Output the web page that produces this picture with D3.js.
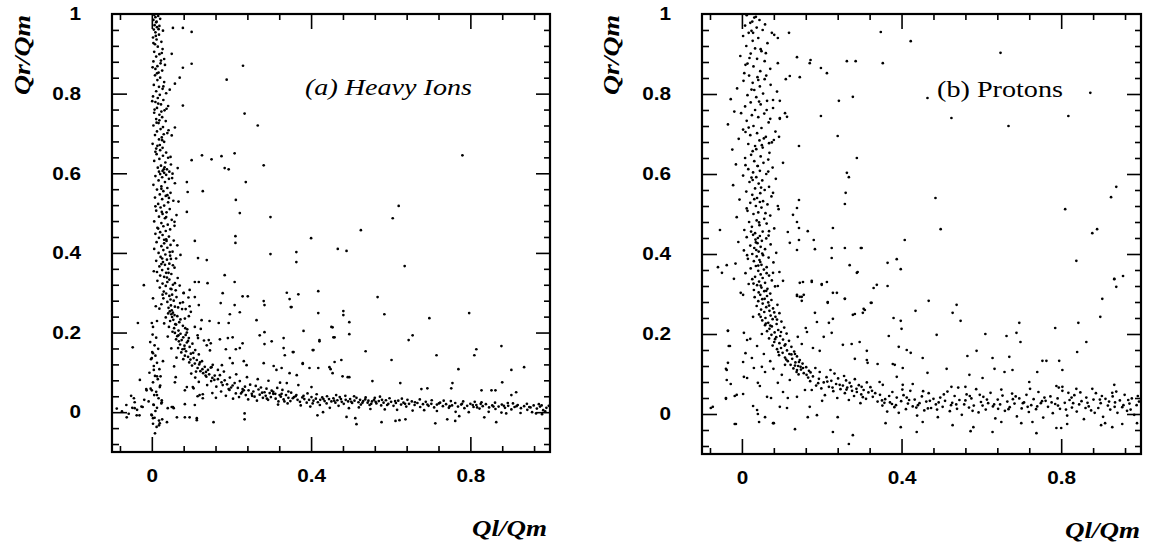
<!DOCTYPE html>
<html><head><meta charset="utf-8">
<script src="https://cdn.jsdelivr.net/npm/d3@7"></script>
<style>
html,body{margin:0;padding:0;background:#fff;}
svg{display:block;}
</style></head><body>
<svg id="chart" width="1149" height="548"></svg>
<script>
// ---------- tick / label data ----------
const xTickLabels = [0, 0.4, 0.8];
const xMinorTicks = [-0.08,0.08,0.16,0.24,0.32,0.48,0.56,0.64,0.72,0.88,0.96];
const yTickLabels = [0,0.2,0.4,0.6,0.8,1];
const yMajorTicks = [0,0.2,0.4,0.6,0.8];
const yMinorTicks = [-0.08,-0.04,0.04,0.08,0.12,0.16,0.24,0.28,0.32,0.36,0.44,0.48,0.52,0.56,0.64,0.68,0.72,0.76,0.84,0.88,0.92,0.96];
const panelTitles = ["(a) Heavy Ions", "(b) Protons"];
const xTitle = "Ql/Qm";
const yTitle = "Qr/Qm";

// ---------- series: [Ql/Qm, Qr/Qm] ----------
const heavyIons = [
[.006,.998],[.009,.992],[.004,.985],[.011,.979],[.007,.972],[.013,.967],[.005,.961],[.016,.995],[.021,.988],[.009,.954],[.018,.948],[.003,.941],[.012,.936],[.024,.93],[.008,.924],[.015,.918],[.027,.912],[.006,.905],[.019,.899],[.011,.893],[.031,.887],[.004,.881],[.022,.876],[.014,.869],[.009,.862],[.026,.858],[.017,.853],[.002,.866],[.033,.872],[.012,.981],[.019,.97],[.028,.958],[.01,.945],[.025,.902],
[.008,.846],[.021,.84],[.014,.834],[.031,.829],[.005,.822],[.018,.817],[.027,.812],[.011,.806],[.036,.801],[.02,.797],[.003,.793],[.015,.789],[.029,.784],[.009,.779],[.023,.773],[.041,.769],[.013,.764],[.032,.758],[.006,.752],[.019,.747],[.026,.741],[.011,.736],[.035,.731],[.017,.726],[.004,.72],[.028,.716],[.022,.711],[.013,.705],[.039,.701],[.008,.696],[.025,.69],[.018,.685],[.031,.679],[.002,.674],[.014,.669],[.027,.664],[.021,.658],[.009,.654],[.036,.652],[.016,.775],[.024,.755],[.012,.727],[.03,.698],[.02,.671],[.045,.81],[.007,.76],
[.012,.648],[.028,.644],[.041,.639],[.019,.636],[.006,.631],[.034,.627],[.048,.622],[.023,.619],[.015,.614],[.038,.61],[.027,.606],[.044,.604],[.031,.601],[.021,.598],[.036,.596],[.052,.599],[.009,.593],[.026,.59],[.043,.586],[.017,.582],[.033,.578],[.058,.575],[.004,.571],[.024,.567],[.039,.563],[.013,.559],[.029,.555],[.047,.551],[.02,.547],[.035,.543],[.008,.539],[.026,.535],[.054,.531],[.041,.527],[.016,.523],[.031,.519],[.022,.514],[.045,.51],[.011,.506],[.037,.502],[.027,.498],[.062,.495],[.018,.491],[.033,.487],[.05,.483],[.006,.479],[.024,.475],[.04,.471],[.029,.467],[.014,.463],[.046,.459],[.035,.455],[.021,.452],[.067,.529],[.057,.468],[.03,.61],[.039,.545],[.025,.503],
[.009,.448],[.027,.445],[.043,.441],[.018,.438],[.036,.434],[.055,.431],[.012,.427],[.031,.424],[.047,.42],[.024,.417],[.039,.413],[.006,.41],[.029,.407],[.052,.403],[.017,.4],[.034,.396],[.046,.393],[.022,.39],[.061,.386],[.038,.383],[.011,.38],[.028,.377],[.044,.373],[.033,.37],[.019,.366],[.057,.363],[.041,.36],[.026,.357],[.005,.354],[.036,.35],[.049,.347],[.021,.343],[.031,.34],[.065,.337],[.044,.333],[.014,.33],[.039,.327],[.027,.323],[.053,.32],[.035,.317],[.02,.313],[.047,.31],[.06,.306],[.03,.303],[.042,.35],[.072,.395],[.07,.318],[.024,.372],[.037,.43],[.048,.385],
[.036,.298],[.051,.295],[.044,.292],[.062,.289],[.029,.286],[.047,.283],[.055,.28],[.039,.277],[.071,.274],[.024,.271],[.048,.268],[.058,.265],[.042,.262],[.076,.259],[.05,.256],[.045,.253],[.053,.25],[.041,.248],[.049,.246],[.057,.244],[.064,.241],[.035,.238],[.083,.235],[.054,.232],[.046,.229],[.069,.226],[.031,.223],[.061,.22],[.078,.217],[.043,.214],[.056,.211],[.089,.208],[.067,.205],[.052,.202],[.092,.288],[.08,.3],[.019,.26],[.013,.229],[.098,.252],
[.058,.199],[.072,.197],[.085,.194],[.064,.191],[.079,.188],[.093,.186],[.061,.183],[.075,.181],[.068,.178],[.088,.175],[.102,.172],[.071,.17],[.082,.167],[.095,.164],[.066,.161],[.077,.158],[.109,.156],[.086,.153],[.074,.15],[.098,.147],[.118,.145],[.083,.142],[.091,.139],[.105,.136],[.079,.133],[.113,.131],[.126,.128],[.094,.125],[.108,.122],[.119,.12],[.101,.117],[.133,.114],[.115,.111],[.127,.108],[.141,.106],[.122,.103],[.136,.101],[.148,.112],[.153,.119],[.062,.137],[.049,.16],[.056,.115],[.138,.168],[.131,.18],[.116,.186],[.146,.155],[.04,.19],[.088,.2],
[.129,.098],[.144,.095],[.158,.092],[.137,.089],[.152,.086],[.171,.093],[.166,.083],[.183,.08],[.149,.078],[.196,.087],[.175,.075],[.208,.073],[.189,.07],[.221,.078],[.203,.067],[.234,.064],[.216,.061],[.247,.069],[.228,.058],[.261,.066],[.243,.055],[.274,.062],[.255,.052],[.288,.059],[.268,.057],[.301,.054],[.283,.05],[.315,.061],[.296,.048],[.328,.056],[.31,.046],[.343,.052],[.109,.087],[.118,.076],[.139,.068],[.162,.064],[.195,.056],[.224,.047],[.181,.102],[.212,.095],[.239,.088],[.266,.083],[.293,.079],[.322,.074],[.099,.097],
[.152,.048],[.161,.036],[.174,.052],[.186,.041],[.193,.058],[.204,.034],[.211,.047],[.219,.038],[.227,.051],[.236,.043],[.242,.032],[.251,.046],[.258,.039],[.264,.029],[.271,.044],[.279,.036],[.286,.041],[.292,.031],[.299,.038],[.305,.046],[.311,.034],[.318,.027],[.324,.039],[.331,.032],[.337,.043],[.343,.036],[.348,.028],[.354,.035],[.361,.04],[.366,.031],[.372,.026],[.378,.037],[.383,.033],[.389,.024],[.395,.031],[.401,.038],[.406,.029],[.412,.034],[.417,.025],[.423,.031],[.428,.037],[.434,.028],[.439,.022],[.445,.033],[.451,.027],[.456,.035],[.461,.024],[.466,.03],[.472,.038],[.477,.026],[.482,.021],[.487,.031],[.493,.027],[.498,.033],[.503,.023],[.509,.029],[.514,.036],[.519,.025],[.525,.019],[.531,.028],[.536,.032],[.542,.024],[.547,.018],[.553,.027],[.558,.031],[.564,.022],[.57,.028],[.576,.017],[.582,.024],[.588,.03],[.594,.021],[.601,.026],[.607,.016],[.613,.023],[.619,.029],[.626,.019],[.632,.024],[.639,.014],[.646,.021],[.653,.027],[.66,.018],[.667,.023],[.674,.013],[.681,.02],[.688,.026],[.695,.016],[.702,.021],[.709,.012],[.716,.019],[.724,.024],[.731,.015],[.739,.02],[.746,.011],[.754,.017],[.762,.023],[.769,.014],[.777,.019],[.785,.01],[.792,.016],[.8,.021],[.808,.013],[.815,.018],[.823,.009],[.831,.015],[.839,.02],[.847,.012],[.855,.017],[.863,.008],[.871,.014],[.879,.019],[.887,.011],[.895,.016],[.903,.007],[.911,.013],[.919,.018],[.927,.01],[.935,.015],[.943,.006],[.951,.012],[.959,.017],[.967,.009],[.975,.014],[.983,.005],[.991,.011],[.997,.016],
[.305,.051],[.317,.019],[.326,.046],[.341,.022],[.35,.049],[.363,.043],[.374,.017],[.391,.047],[.398,.014],[.414,.045],[.422,.018],[.44,.04],[.447,.011],[.463,.043],[.469,.016],[.486,.041],[.495,.01],[.508,.04],[.52,.012],[.537,.037],[.549,.008],[.56,.036],[.573,.039],[.585,.007],[.597,.035],[.616,.006],[.628,.034],[.642,.031],[.655,.004],[.673,.032],[.684,.005],[.703,.03],[.716,.003],[.733,.029],[.751,.028],[.763,.001],[.782,.027],[.796,.0],[.811,.026],[.828,.025],[.846,.001],[.862,.024],[.878,-.001],[.894,.023],[.907,.022],[.926,-.002],[.942,.021],[.955,.0],[.972,.02],[.988,.002],
[.002,.195],[.011,.187],[-.004,.176],[.007,.168],[.016,.159],[.001,.151],[.009,.142],[-.002,.133],[.013,.124],[.005,.116],[.019,.108],[-.006,.099],[.008,.091],[.015,.083],[.003,.075],[.021,.067],[-.003,.059],[.011,.051],[.006,.043],[.017,.035],[-.008,.027],[.004,.019],[.013,.011],[.009,.003],[-.001,-.006],[.007,-.014],[.018,-.021],[.003,-.029],[.012,-.037],[.026,-.018],[.024,.022],[.028,.128],[.022,.09],
[-.075,.002],[-.064,.018],[-.058,-.004],[-.049,.011],[-.043,.025],[-.037,.006],[-.031,-.008],[-.026,.014],[-.019,.031],[-.088,.009],[-.052,.041],[-.014,.058],[-.03,.081],
[.053,.965],[.078,.965],[.1,.955],[.05,.9],[.1,.875],[.078,.865],[.07,.84],[.058,.825],[.188,.835],[.229,.87],[.078,.77],[.233,.75],[.266,.72],[.058,.715],[.05,.695],[.1,.633],[.126,.645],[.15,.635],[.175,.643],[.208,.65],[.183,.613],[.193,.61],[.281,.62],[.065,.613],[.088,.578],[.128,.555],[.09,.553],[.236,.578],[.211,.533],[.221,.5],[.298,.49],[.088,.503],[.21,.442],[.21,.425],[.108,.43],[.298,.397],[.363,.377],[.116,.387],[.138,.382],[.183,.344],
[.78,.645],[.62,.518],[.605,.487],[.525,.457],[.4,.437],[.363,.402],[.467,.41],[.489,.405],[.635,.367],
[.339,.3],[.368,.296],[.418,.304],[.346,.284],[.351,.264],[.567,.289],[.418,.249],[.481,.254],[.481,.244],[.584,.246],[.697,.236],[.797,.249],[.496,.226],[.454,.213],[.381,.204],[.496,.196],[.655,.193],[.645,.181],[.331,.186],[.421,.178],[.459,.188],[.404,.156],[.354,.151],[.537,.153],[.715,.143],[.815,.158],[.81,.143],[.878,.166],[.602,.131],[.459,.126],[.935,.113],[.77,.108],[.903,.106],[.379,.121],[.418,.111],[.449,.108],[.479,.09],[.496,.088],[.454,.098],[.554,.078],[.624,.073],[.88,.075],[.755,.073],[.828,.055],[.853,.055],[.863,.055],[.677,.058],[.692,.06],[.915,.05],[.903,.043],[.752,.06],[.401,.063],[.368,.068],[.339,.073],
[.416,-.008],[.43,0],[.489,-.012],[.511,-.015],[.514,-.03],[.577,-.025],[.612,-.022],[.622,-.02],[.637,-.018],[.712,-.028],[.742,-.018],[.762,-.022],[.772,-.01],[.835,-.013],[.865,-.025],[.89,-.003],[.965,-.003],[.98,-.005],
[-.02,.319],[-.035,.224],[-.048,.163],[.003,.286],[.01,.266],[.08,.299],[.095,.307],[.108,.289],[.118,.269],[.14,.324],[.108,.327],[.118,.327],[.178,.299],[.173,.274],[.208,.327],[.228,.291],[.241,.291],[.208,.269],[.221,.251],[.196,.246],[.168,.224],[.193,.224],[.263,.231],[.281,.279],[.283,.269],[.349,.264],[.145,.229],[.125,.231],[.093,.241],[.085,.259],[.078,.276],[.095,.266],[.108,.214],[.123,.209],[.115,.193],[.143,.181],[.148,.173],[.171,.183],[.191,.186],[.203,.188],[.186,.158],[.211,.158],[.221,.161],[.228,.173],[.271,.193],[.283,.201],[.301,.178],[.283,.171],[.331,.161],[.356,.151],[.334,.143],[.196,.136],[.203,.123],[.231,.128],[.238,.118],[.176,.118],[.166,.106],[.15,.113],[.281,.123],[.306,.116],[.313,.106],[.326,.111],[.346,.098],[.364,.093],[.379,.123],[.406,.156],[.421,.181],[.451,.214],[.456,.188],[.476,.131],[.446,.113],[.396,.111],[.492,.088],
[0,-.008],[.003,-.015],[.018,-.033],[.008,-.053],[.038,-.025],[.055,.01],[.083,.02],[.108,.018],[.095,-.013],[.113,-.02],[.155,-.025],[.233,-.003],[.233,-.018],[.083,.055],[.105,.06],[.12,.043],[.128,.035],[.04,.01],[.025,.025],[.05,.013],[-.013,.055],[0,.055],[.013,.043],[-.045,.035],[0,.224],[.003,.214],[.003,.148],[0,.136],[.005,.106],[.013,.09],[.02,.063],[.025,.03],[.005,.018],[.02,-.028],[.053,.013],[.063,-.013],[.083,-.013],[-.043,.01],[-.023,.013],[-.063,-.013],[-.038,-.008],[.058,.075],[.06,.088],[.088,.063],[.103,.063],[.115,.04],[.128,.045],[.113,-.015],
[.017,.962],[.004,.927],[.023,.883],[.013,.851],[.029,.818],[.001,.781],[.037,.762],[.019,.733],[.042,.708],[.026,.683],[.011,.662],[.047,.641],[.032,.615],[.018,.604],[.051,.588],[.024,.561],[.043,.538],[.009,.517],[.036,.49],[.057,.478],[.016,.461],[.031,.433],[.064,.419],[.045,.402],[.026,.386],[.053,.369],[.013,.352],[.038,.338],[.058,.324],[.049,.309],[.027,.295],[.066,.263],[.051,.239],[.072,.233],[.059,.221],[.084,.211],[.067,.193],[.091,.179],[.082,.159],[.104,.149],[.097,.132],[.121,.125],[.111,.102],[.135,.092],[.157,.081],[.178,.068],[.199,.062],[.231,.055],[.252,.041],[.277,.049],[.289,.034],[.321,.043],[.333,.027],[.357,.038],[.381,.041],[.404,.022],[.431,.033],[.458,.029],[.475,.033],[.501,.026],[.523,.031],[.529,.024],[.544,.029],[.551,.021],[.562,.026],[.578,.031],[.591,.018],[.611,.028],[.636,.021],[.661,.025],[.692,.019],[.721,.022],[.748,.015],[.779,.021],[.806,.018],[.817,.012],[.826,.021],[.858,.014],[.884,.016],[.916,.015],[.948,.013],[.979,.017]
];

const protons = [
[.012,.997],[.031,.991],[.044,.985],[.021,.978],[.008,.971],[.037,.966],[.052,.96],[.017,.953],[.003,.945],[.041,.94],[.027,.933],[.064,.927],[.011,.92],[.033,.914],[.049,.907],[.022,.901],[-.004,.895],[.038,.888],[.057,.882],[.014,.876],[.029,.869],[.071,.863],[.046,.857],[.006,.852],[.035,.993],[.058,.974],[.024,.958],[.081,.948],[.019,.89],
[.018,.846],[.039,.842],[.057,.837],[.004,.833],[.027,.828],[.072,.823],[.045,.819],[-.012,.814],[.031,.81],[.088,.806],[.053,.801],[.014,.797],[.036,.792],[-.028,.787],[.063,.783],[.022,.779],[.047,.774],[.008,.769],[.078,.765],[.033,.76],[-.019,.756],[.056,.751],[.025,.747],[.041,.742],[.095,.738],[.012,.733],[.067,.729],[-.035,.724],[.029,.72],[.049,.715],[.003,.711],[.084,.706],[.038,.702],[.021,.697],[.06,.693],[-.008,.688],[.044,.684],[.075,.679],[.016,.675],[.033,.67],[.052,.666],[-.024,.661],[.027,.657],[.069,.653],[.041,.835],[.062,.76],[.009,.705],[.05,.672],
[.023,.648],[.047,.644],[.008,.64],[.066,.636],[.031,.632],[.054,.628],[-.015,.624],[.039,.62],[.077,.616],[.016,.612],[.045,.608],[.028,.604],[.061,.6],[.003,.596],[.036,.592],[.085,.588],[.051,.584],[.019,.58],[.042,.576],[-.022,.572],[.068,.568],[.033,.564],[.057,.56],[.011,.556],[.046,.552],[.026,.548],[.074,.544],[.038,.54],[-.006,.536],[.053,.532],[.021,.528],[.064,.524],[.035,.52],[.049,.516],[.092,.512],[.014,.508],[.041,.504],[.029,.5],[.071,.496],[-.013,.492],[.056,.488],[.037,.484],[.018,.48],[.062,.476],[.044,.472],[.025,.468],[.081,.464],[.006,.46],[.052,.456],[.033,.452],[.04,.62],[.045,.53],[.027,.585],
[.028,.448],[.045,.445],[.012,.442],[.061,.439],[.034,.436],[.05,.433],[-.009,.43],[.039,.427],[.072,.424],[.021,.421],[.047,.418],[.031,.415],[.058,.412],[.005,.409],[.042,.406],[.086,.403],[.026,.4],[.053,.397],[.037,.394],[.067,.391],[.015,.388],[.044,.385],[.03,.382],[.079,.379],[-.016,.376],[.049,.373],[.035,.37],[.062,.367],[.022,.364],[.055,.361],[.041,.358],[.094,.355],[.009,.352],[.047,.349],[.068,.346],[.033,.343],[.052,.34],[.026,.337],[.075,.334],[.043,.331],[.058,.328],[.017,.325],[.038,.322],[.083,.319],[.049,.316],[.064,.313],[.03,.31],[.056,.307],[.042,.304],[.071,.301],[.04,.44],[.036,.41],[.046,.38],
[.046,.298],[.063,.295],[.032,.292],[.057,.288],[.074,.285],[.041,.282],[.066,.279],[.052,.276],[.089,.273],[.037,.27],[.061,.267],[.078,.264],[.048,.261],[.069,.258],[.056,.255],[.094,.252],[.043,.249],[.072,.246],[.084,.243],[.059,.24],[.077,.237],[.051,.234],[.099,.231],[.066,.228],[.087,.225],[.058,.222],[.075,.219],[.106,.216],[.069,.213],[.091,.21],[.063,.207],[.082,.204],[.112,.201],[.074,.198],[.096,.195],[.086,.192],[.068,.189],[.103,.186],[.118,.183],[.081,.18],[.094,.177],[.109,.174],[.077,.171],[.124,.168],[.098,.165],[.088,.162],[.113,.159],[.131,.156],[.102,.153],[.119,.15],[.093,.147],[.138,.144],[.108,.141],[.126,.138],[.145,.135],[.115,.132],[.134,.129],[.152,.126],[.122,.123],[.141,.12],[.161,.117],[.129,.114],[.148,.111],[.168,.108],[.137,.105],[.155,.102],[.06,.226],[.05,.2],[.038,.17],[.055,.15],[.071,.132],[.079,.113],[.028,.243],[.021,.188],[.009,.152],
[-.035,.208],[-.03,.17],[-.035,.128],[-.04,.113],[-.038,.085],[-.028,.075],[-.04,.038],[-.018,.045],[-.013,.048],[-.078,.015],[-.018,-.025],[.003,.05],[.005,.093],[.013,.09],[.003,.13],[.005,.203],[.013,.185],[.025,.14],[.03,.115],[.05,.118],[.058,.105],[.04,.078],[.045,.07],[.028,.02],[.038,.01],[.04,0],[.058,-.008],[.078,-.023],[.063,.043],[.073,.04],[.095,.018],[.113,.015],[.115,.04],[.138,.043],[.17,.018],[.165,-.008],[.188,-.003],[.24,-.008],[.09,.078],[.103,.055],[.12,.085],[.1,.098],[.158,.06],[.108,.123],[.138,.11],[.153,.115],[.133,.15],[.143,.13],
[.162,.098],[.171,.082],[.178,.094],[.186,.071],[.193,.088],[.199,.064],[.205,.079],[.212,.092],[.218,.068],[.224,.083],[.229,.057],[.236,.075],[.241,.089],[.247,.062],[.253,.071],[.258,.052],[.264,.066],[.27,.078],[.276,.058],[.281,.045],[.287,.063],[.293,.072],[.299,.049],[.305,.06],[.311,.038],[.317,.054],[.322,.067],[.328,.043],[.334,.052],[.34,.031],[.175,.06],[.195,.105],[.208,.047],[.222,.11],[.239,.04],[.256,.095],[.268,.035],[.283,.087],[.297,.027],[.313,.079],[.184,.115],[.201,.033],[.232,.101],[.261,.084],[.274,.069],
[.346,.048],[.352,.021],[.359,.037],[.364,.006],[.371,.029],[.377,.055],[.382,.017],[.388,.041],[.393,.003],[.399,.032],[.405,.047],[.411,.012],[.416,.026],[.422,.058],[.428,.019],[.433,.036],[.439,-.004],[.445,.027],[.451,.044],[.457,.009],[.462,.031],[.468,.052],[.474,.015],[.48,.038],[.486,.024],[.491,-.008],[.497,.041],[.503,.018],[.509,.033],[.515,.056],[.521,.007],[.527,.028],[.533,.045],[.539,.013],[.545,.035],[.551,-.002],[.557,.024],[.563,.049],[.569,.016],[.575,.039],[.581,.021],[.587,.062],[.593,.004],[.599,.03],[.605,.043],[.611,.011],[.617,.027],[.623,.053],[.629,.019],[.635,-.011],[.641,.036],[.647,.024],[.653,.046],[.659,.008],[.665,.031],[.671,.017],[.677,.051],[.683,.026],[.689,-.006],[.695,.039],[.701,.014],[.707,.029],[.713,.048],[.719,.005],[.725,.022],[.731,.037],[.737,.012],[.743,.055],[.749,.027],[.755,-.009],[.761,.033],[.767,.018],[.773,.044],[.779,.002],[.785,.025],[.791,.039],[.797,.013],[.803,.058],[.809,.028],[.815,-.004],[.821,.035],[.827,.016],[.833,.047],[.839,.006],[.845,.024],[.851,.032],[.857,-.013],[.863,.041],[.869,.019],[.875,.009],[.881,.036],[.887,.052],[.893,.015],[.899,.027],[.905,-.007],[.911,.038],[.917,.021],[.923,.011],[.929,.044],[.935,.029],[.941,.003],[.947,.034],[.953,.017],[.959,.048],[.965,.008],[.971,.026],[.977,.039],[.983,-.002],[.989,.022],[.995,.031],
[.357,.028],[.369,.045],[.386,.022],[.402,.061],[.419,.035],[.437,.016],[.454,.057],[.471,.033],[.489,.011],[.506,.049],[.524,.022],[.542,.066],[.56,.034],[.578,.008],[.596,.048],[.614,.036],[.632,.024],[.65,.061],[.668,.012],[.686,.044],[.704,.027],[.722,.063],[.74,.019],[.758,.041],[.776,.029],[.794,.066],[.812,.011],[.83,.027],[.848,.054],[.866,.028],[.884,.003],[.902,.045],[.92,.031],[.938,.056],[.956,.022],[.974,.011],[.992,.045],
[.028,.953],[.075,.953],[.09,.94],[.118,.953],[.06,.902],[.09,.877],[.138,.892],[.172,.885],[.17,.877],[.198,.865],[.213,.852],[.263,.882],[.285,.882],[.11,.837],[.12,.845],[.145,.842],[.078,.785],[.095,.783],[.243,.783],[.278,.793],[.108,.752],[.113,.743],[.095,.74],[.198,.745],[.24,.695],[.093,.693],[.08,.685],[.068,.677],[.143,.67],[.288,.64],[.103,.628],[.263,.603],[.268,.592],[.26,.553],[.258,.525],[.143,.535],[.09,.52],[.138,.515],[.128,.498],[.138,.48],[.143,.465],[.165,.457],[.115,.455],[.228,.465],[-.055,.46],[.068,.457],[.143,.435],[.12,.428],[.18,.435],[.183,.412],[.225,.415],[.258,.415],[.3,.415],[.138,.41],[.225,.39],[.27,.372],[.29,.355],[-.038,.372],[-.06,.367],
[.348,.955],[.423,.932],[.353,.877],[.648,.903],[.465,.79],[.525,.74],[.668,.72],[.873,.803],[.818,.745],[.485,.54],[.498,.462],[.408,.435],[.298,.415],[.365,.378],[.388,.387],[.398,.362],[.81,.512],[.938,.568],[.925,.542],[.89,.462],[.878,.452],[.838,.383],[.955,.345],[.933,.337],
[.338,.323],[.33,.315],[.365,.32],[.325,.278],[.303,.253],[.308,.26],[.468,.283],[.435,.258],[.528,.253],[.538,.273],[.548,.233],[.38,.24],[.398,.233],[.4,.213],[.368,.195],[.488,.198],[.61,.2],[.663,.195],[.688,.203],[.695,.228],[.698,.18],[.785,.215],[.843,.228],[.863,.18],[.903,.288],[.898,.243],[.933,.338],[.938,.318],[.84,.155],[.313,.158],[.393,.168],[.413,.16],[.423,.153],[.565,.145],[.588,.158],[.628,.14],[.67,.143],[.753,.133],[.763,.133],[.795,.133],[.315,.128],[.34,.125],[.453,.14],[.378,.125],[.383,.123],[.403,.115],[.513,.113],[.465,.103],[.633,.113],[.57,.098],[.603,.09],[.678,.11],[.658,.105],[.72,.08],[.74,.105],[.803,.11],[.933,.073],[.388,.093],[.403,.073],[.428,.075],[.345,.08],[.353,.073],[.3,.068],[.525,.068],[.56,.068],[.838,.063],[.878,.063],[.928,.053],[.788,.07],[.803,.068],[.818,.053],
[.36,-.023],[.398,-.033],[.438,-.045],[.453,-.02],[.528,-.028],[.573,-.043],[.58,-.033],[.628,-.045],[.65,-.02],[.7,-.023],[.728,-.02],[.738,-.048],[.788,-.035],[.8,-.035],[.815,-.025],[.9,-.028],[.91,-.023],[.928,-.033],[.953,-.025],[.99,-.023],[.278,-.053],[.228,-.045],[.268,-.075],[.133,-.038],[-.015,-.025],[.08,-.023],[.043,-.02],
[.138,.298],[.15,.283],[.155,.298],[.215,.278],[.183,.253],[.188,.23],[.218,.228],[.228,.238],[.16,.215],[.163,.205],[.225,.203],[.205,.193],[.14,.193],[.15,.175],[.178,.165],[.195,.158],[.253,.173],[.275,.175],[.295,.18],[.283,.138],[.313,.135],[.283,.25],[.258,.288],[.278,.248],[.305,.263],[.323,.278],[.2,.323],[.175,.33],[.145,.293],[.213,.33],[.228,.303],[.238,.303],
[.145,.328],[.15,.293],[.153,.33],[.138,.295],[.175,.333],[.2,.325],[.215,.28],[.258,.288],[.288,.353],[.103,.333],[.09,.32],[.078,.353],[-.05,.353],[-.02,.338],[-.003,.303],[.003,.298],[-.035,.208],[-.033,.17],[-.038,.11],[-.04,.04],[-.073,.018],
[.026,.981],[.047,.912],[.009,.873],[.061,.846],[.024,.811],[.043,.781],[-.002,.752],[.071,.738],[.017,.716],[.055,.689],[.036,.662],[.009,.622],[.066,.606],[.024,.591],[.048,.566],[.078,.553],[.031,.537],[.012,.514],[.059,.502],[.043,.479],[.023,.456],[.067,.446],[.035,.429],[.051,.401],[.013,.397],[.041,.371],[.062,.352],[.029,.326],[.047,.321],[.061,.308],[.051,.287],[.068,.271],[.081,.254],[.047,.243],[.088,.236],[.071,.221],[.098,.205],[.083,.187],[.107,.171],[.091,.155],[.124,.149],[.111,.136],[.133,.121],[.147,.118],[.142,.099],[.166,.091],[.172,.104],[.191,.077],[.214,.081],[.227,.066],[.245,.073],[.262,.061],[.288,.055],[.303,.042],[.326,.058],[.351,.034],[.376,.025],[.413,.041],[.441,.022],[.466,.014],[.493,.029],[.537,.024],[.571,.045],[.603,.021],[.642,.013],[.679,.037],[.716,.018],[.752,.032],[.792,.021],[.826,.041],[.861,.015],[.897,.036],[.934,.018],[.968,.035]
];

// ---------- layout ----------
const panels = [
  {data: heavyIons, title: panelTitles[0], italic: true,  x0: 112, x1: 550,  yb: 452, yt: 14,
   titleX: 305, titleY: 95, titleLen: 167, yTitleX: 30, xTitleR: 547, xTitleY: 536},
  {data: protons,   title: panelTitles[1], italic: false, x0: 702, x1: 1141, yb: 454, yt: 14,
   titleX: 937, titleY: 97, titleLen: 126, yTitleX: 619, xTitleR: 1140, xTitleY: 538}
];

const svg = d3.select("#chart");
svg.append("rect").attr("width",1149).attr("height",548).attr("fill","#fff");

const serif = "'Liberation Serif','Times New Roman',Times,serif";
const sans = "'Liberation Sans',Arial,Helvetica,sans-serif";

function tickStyle(sel){
  sel.select(".domain").remove();
  sel.selectAll("text").remove();
  sel.selectAll("line").attr("stroke","#000").attr("stroke-width",1.6);
}
function labStyle(sel){
  sel.select(".domain").remove();
  sel.selectAll("line").remove();
  sel.selectAll("text").attr("font-family",sans).attr("font-weight","bold")
     .attr("font-size",18).attr("fill","#000");
}
function stretch(sel,k){
  sel.each(function(){
    const L = this.getComputedTextLength();
    d3.select(this).attr("textLength", L*k).attr("lengthAdjust","spacingAndGlyphs");
  });
}

panels.forEach(p => {
  const x = d3.scaleLinear().domain([-0.1,1]).range([p.x0,p.x1]);
  const y = d3.scaleLinear().domain([-0.1,1]).range([p.yb,p.yt]);
  const g = svg.append("g");

  g.append("g").selectAll("circle").data(p.data).join("circle")
    .attr("cx", d => x(d[0])).attr("cy", d => y(d[1]))
    .attr("r", 1.35).attr("fill","#000");

  // inward ticks on all four sides
  g.append("g").attr("transform",`translate(${p.x0},0)`).call(d3.axisRight(y).tickValues(yMinorTicks).tickSize(7)).call(tickStyle);
  g.append("g").attr("transform",`translate(${p.x0},0)`).call(d3.axisRight(y).tickValues(yMajorTicks).tickSize(15)).call(tickStyle);
  g.append("g").attr("transform",`translate(${p.x1},0)`).call(d3.axisLeft(y).tickValues(yMinorTicks).tickSize(6)).call(tickStyle);
  g.append("g").attr("transform",`translate(${p.x1},0)`).call(d3.axisLeft(y).tickValues(yMajorTicks).tickSize(14)).call(tickStyle);
  g.append("g").attr("transform",`translate(0,${p.yb})`).call(d3.axisTop(x).tickValues(xMinorTicks).tickSize(6)).call(tickStyle);
  g.append("g").attr("transform",`translate(0,${p.yb})`).call(d3.axisTop(x).tickValues(xTickLabels).tickSize(15)).call(tickStyle);
  g.append("g").attr("transform",`translate(0,${p.yt})`).call(d3.axisBottom(x).tickValues(xMinorTicks).tickSize(6)).call(tickStyle);
  g.append("g").attr("transform",`translate(0,${p.yt})`).call(d3.axisBottom(x).tickValues(xTickLabels).tickSize(15)).call(tickStyle);

  // frame
  g.append("rect").attr("x",p.x0).attr("y",p.yt).attr("width",p.x1-p.x0).attr("height",p.yb-p.yt)
    .attr("fill","none").attr("stroke","#000").attr("stroke-width",2.2);

  // tick labels
  const yl = g.append("g").attr("transform",`translate(${p.x0},0)`)
    .call(d3.axisLeft(y).tickValues(yTickLabels).tickSize(0).tickPadding(31).tickFormat(d3.format("~g"))).call(labStyle);
  const xl = g.append("g").attr("transform",`translate(0,${p.yb})`)
    .call(d3.axisBottom(x).tickValues(xTickLabels).tickSize(0).tickPadding(17).tickFormat(d3.format("~g"))).call(labStyle);
  stretch(yl.selectAll("text"),1.15);
  stretch(xl.selectAll("text"),1.15);

  // panel title
  g.append("text").attr("x",p.titleX).attr("y",p.titleY)
    .attr("font-family",serif).attr("font-size",23)
    .attr("font-style", p.italic ? "italic" : "normal")
    .attr("textLength",p.titleLen).attr("lengthAdjust","spacingAndGlyphs")
    .text(p.title);

  // axis titles
  g.append("text").attr("transform",`translate(${p.yTitleX},55) rotate(-90)`)
    .attr("text-anchor","middle").attr("font-family",serif).attr("font-size",24)
    .attr("font-style","italic").attr("font-weight","bold")
    .attr("textLength",80).attr("lengthAdjust","spacingAndGlyphs").text(yTitle);
  g.append("text").attr("x",p.xTitleR).attr("y",p.xTitleY)
    .attr("text-anchor","end").attr("font-family",serif).attr("font-size",24)
    .attr("font-style","italic").attr("font-weight","bold")
    .attr("textLength",75).attr("lengthAdjust","spacingAndGlyphs").text(xTitle);
});
</script>
</body></html>
